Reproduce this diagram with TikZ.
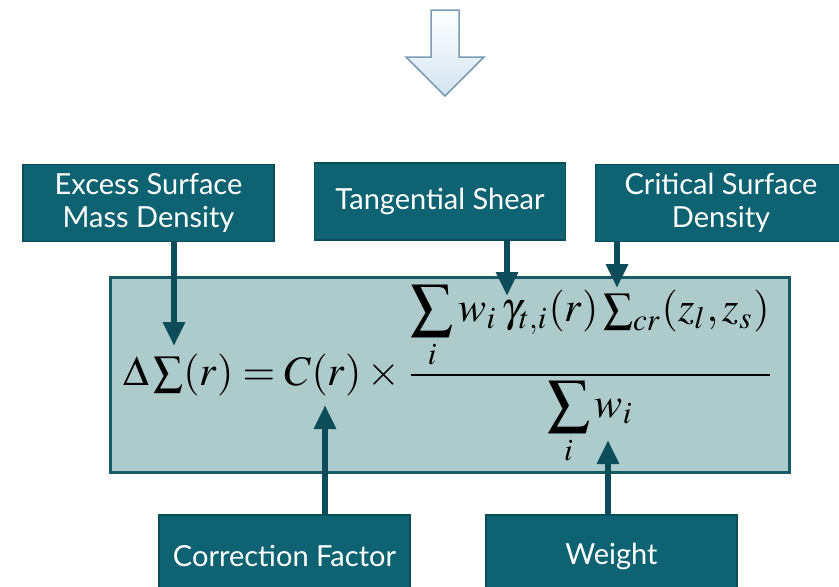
\documentclass[tikz,border=0pt]{standalone}
\usepackage{amsmath}
\usepackage{mathptmx}
\usepackage{graphicx}
\usepackage{fontspec}
\setmainfont{Lato}
\usetikzlibrary{arrows.meta,positioning,calc}
\definecolor{boxteal}{HTML}{0E6373}
\definecolor{boxedge}{HTML}{0A4D59}
\definecolor{eqfill}{HTML}{ADCBCB}
\definecolor{eqedge}{HTML}{175B66}
\definecolor{pointer}{HTML}{0D4D5B}
\definecolor{hollowedge}{HTML}{7A9DB5}
\definecolor{hollowfill}{HTML}{D3E4F1}

\begin{document}
\begin{tikzpicture}[x=1pt,y=-1pt, label/.style={draw=boxedge,fill=boxteal,line width=1.2pt,text=white,align=center,font=\fontsize{29}{33}\selectfont,minimum width=251pt,minimum height=77pt,inner sep=2pt}, pointto/.style={draw=pointer,line width=6pt,-{Triangle[length=24pt,width=21pt]}}]
\useasboundingbox (0,0) rectangle (839,587);
% hollow arrow at the top
\shade[top color=white,bottom color=hollowfill,draw=hollowedge,line width=1.5pt,line join=miter]
  (431,10) -- (459,10) -- (459,57) -- (484,57) -- (445,96) -- (406,57) -- (431,57) -- cycle;
% formula panel
\node[draw=eqedge,fill=eqfill,line width=3pt,minimum width=679pt,minimum height=195pt,inner sep=0pt] (panel) at (449.5,374.5) {};
\node (formula) at (449,375) {\scalebox{4.2}{$\displaystyle \Delta\textstyle\sum\displaystyle(r)=C(r)\times\frac{\displaystyle\sum_i w_i\,\gamma_{t,i}(r)\textstyle\sum\nolimits_{cr}\displaystyle(z_l,z_s)}{\displaystyle\sum_i w_i}$}};
% labels
\node[label] (excess) at (148.5,203) {Excess Surface\\Mass Density};
\node[label] (shear) at (440,201.5) {Tangential Shear};
\node[label] (critical) at (721,203) {Critical Surface\\Density};
\node[label,minimum height=82pt] (correction) at (284.5,556) {Correction Factor};
\node[label,minimum height=82pt] (weight) at (611.5,556) {Weight};
% points in the formula
\coordinate (atdelta) at (174,346);
\coordinate (atgamma) at (507,296);
\coordinate (atcrit) at (617,288);
\coordinate (atcorr) at (325,405);
\coordinate (atweight) at (608,440);
\draw[pointto] (excess.south -| atdelta) -- (atdelta);
\draw[pointto] (shear.south -| atgamma) -- (atgamma);
\draw[pointto] (critical.south -| atcrit) -- (atcrit);
\draw[pointto] (correction.north -| atcorr) -- (atcorr);
\draw[pointto] (weight.north -| atweight) -- (atweight);
\end{tikzpicture}
\end{document}
